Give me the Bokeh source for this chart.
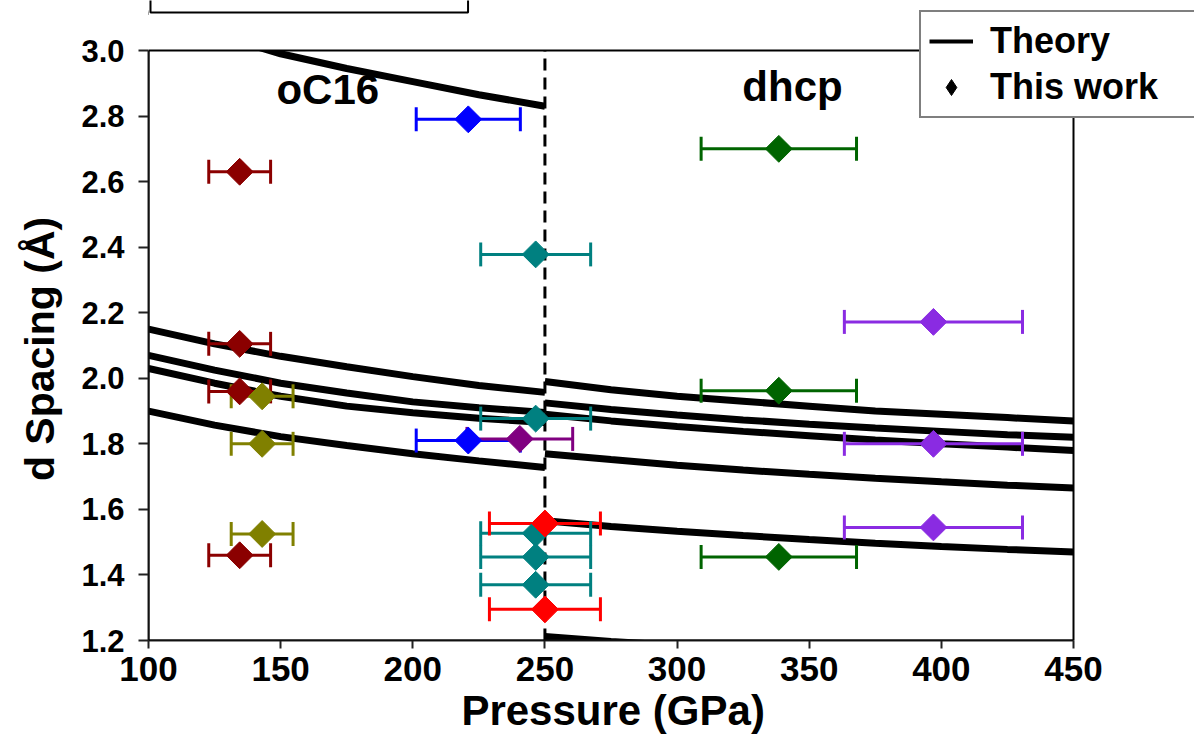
import numpy as np
from bokeh.plotting import figure
from bokeh.models import (ColumnDataSource, Label, Legend, LegendItem, BoxAnnotation,
                          Range1d, FixedTicker, PrintfTickFormatter)
from bokeh.embed import file_html
from bokeh.resources import INLINE

# ---------------- data ----------------
# Theory curves, oC16 phase (100-250 GPa)
oc16_pressure = [100, 125, 150, 175, 200, 225, 250]
oc16_d1 = [3.12, 3.05, 2.99, 2.945, 2.905, 2.865, 2.83]
oc16_d2 = [2.15, 2.105, 2.067, 2.035, 2.005, 1.978, 1.957]
oc16_d3 = [2.07, 2.025, 1.985, 1.955, 1.928, 1.91, 1.896]
oc16_d4 = [2.03, 1.985, 1.945, 1.915, 1.895, 1.878, 1.865]
oc16_d5 = [1.90, 1.857, 1.822, 1.795, 1.77, 1.748, 1.728]

# Theory curves, dhcp phase (250-450 GPa)
dhcp_pressure = [250, 275, 300, 325, 350, 375, 400, 425, 450]
dhcp_d1 = [1.99, 1.965, 1.945, 1.93, 1.915, 1.90, 1.89, 1.88, 1.87]
dhcp_d2 = [1.925, 1.905, 1.888, 1.873, 1.86, 1.848, 1.838, 1.828, 1.82]
dhcp_d3 = [1.89, 1.87, 1.853, 1.838, 1.825, 1.812, 1.80, 1.79, 1.78]
dhcp_d4 = [1.77, 1.752, 1.735, 1.72, 1.707, 1.695, 1.684, 1.674, 1.665]
dhcp_d5 = [1.565, 1.548, 1.533, 1.52, 1.508, 1.497, 1.487, 1.478, 1.47]
dhcp_d6 = [1.212, 1.197, 1.185, 1.175, 1.166, 1.158, 1.151, 1.145, 1.14]

phase_boundary = 250

# Experimental points ("This work")
exp_pressure = [134.5, 134.5, 134.5, 134.5,
                143, 143, 143,
                221, 221,
                240.5,
                246.5, 246.5, 246.5, 246.5, 246.5,
                250, 250,
                338.5, 338.5, 338.5,
                397, 397, 397]
exp_d = [2.63, 2.105, 1.96, 1.46,
         1.945, 1.80, 1.525,
         2.79, 1.81,
         1.815,
         2.378, 1.877, 1.527, 1.455, 1.37,
         1.557, 1.295,
         2.70, 1.962, 1.455,
         2.172, 1.80, 1.545]
exp_err = [11.7, 11.7, 11.7, 11.7,
           11.7, 11.7, 11.7,
           19.7, 19.7,
           20.0,
           20.8, 20.8, 20.8, 20.8, 20.8,
           21.0, 21.0,
           29.4, 29.4, 29.4,
           33.7, 33.7, 33.7]
exp_color = ["#8B0000"] * 4 + ["#808000"] * 3 + ["#0000FF"] * 2 + ["#800080"] + \
            ["#008080"] * 5 + ["#FF0000"] * 2 + ["#006400"] * 3 + ["#8A2BE2"] * 3

x_min, x_max = 100, 450
y_min, y_max = 1.2, 3.0
x_ticks = [100, 150, 200, 250, 300, 350, 400, 450]
y_ticks = [1.2, 1.4, 1.6, 1.8, 2.0, 2.2, 2.4, 2.6, 2.8, 3.0]

FONT = "Liberation Sans"
NB = "\u00a0"

# ---------------- figure ----------------
# The frame is extended to the top and right canvas edges so that the legend
# and the top-left box (which sit partly outside the axes box) are not clipped.
p = figure(width=1194, height=740,
           x_range=Range1d(x_min, x_min + 1046 * (x_max - x_min) / 925),
           y_range=Range1d(y_min, y_max + 50 * (y_max - y_min) / 590),
           output_backend="svg", toolbar_location=None,
           min_border_left=148, min_border_right=0, min_border_top=0, min_border_bottom=100)
p.xgrid.visible = False
p.ygrid.visible = False
p.outline_line_color = None
p.background_fill_color = "white"
p.border_fill_color = "white"

for ax in (p.xaxis, p.yaxis):
    ax.axis_line_color = "#222222"
    ax.axis_line_width = 2
    ax.major_tick_line_color = "#222222"
    ax.major_tick_line_width = 2
    ax.major_tick_in = 0
    ax.minor_tick_line_color = None
    ax.major_label_text_font = FONT
    ax.major_label_text_font_style = "bold"
    ax.major_label_text_color = "black"
    ax.axis_label_text_font = FONT
    ax.axis_label_text_font_style = "bold"
    ax.axis_label_text_color = "black"

p.xaxis.bounds = (x_min, x_max)
p.yaxis.bounds = (y_min, y_max)
p.xaxis.ticker = FixedTicker(ticks=x_ticks)
p.yaxis.ticker = FixedTicker(ticks=y_ticks)
p.yaxis.formatter = PrintfTickFormatter(format="%.1f")
p.xaxis.major_tick_out = 8
p.yaxis.major_tick_out = 10
p.xaxis.major_label_text_font_size = "35px"
p.yaxis.major_label_text_font_size = "31px"
p.xaxis.major_label_standoff = 8
p.yaxis.major_label_standoff = 14
p.xaxis.axis_label_standoff = 3
p.yaxis.axis_label_standoff = 15
p.xaxis.axis_label_text_font_size = "42px"
p.yaxis.axis_label_text_font_size = "41px"
# non-breaking spaces re-centre the titles on the axes box (100-450 / 1.2-3.0)
p.xaxis.axis_label = "Pressure (GPa)" + NB * 10
p.yaxis.axis_label = "d Spacing (Å)" + NB * 5

# theory curves: white underlay + black line
for d in (oc16_d1, oc16_d2, oc16_d3, oc16_d4, oc16_d5):
    src = ColumnDataSource(dict(x=oc16_pressure, y=d))
    p.line("x", "y", source=src, line_color="white", line_width=11)
    p.line("x", "y", source=src, line_color="black", line_width=7)
for d in (dhcp_d1, dhcp_d2, dhcp_d3, dhcp_d4, dhcp_d5, dhcp_d6):
    src = ColumnDataSource(dict(x=dhcp_pressure, y=d))
    p.line("x", "y", source=src, line_color="white", line_width=11)
    p.line("x", "y", source=src, line_color="black", line_width=7)

# phase boundary
p.line(x=[phase_boundary, phase_boundary], y=[y_min, y_max], line_color="black",
       line_width=3, line_dash="12 7")

# experimental points
exp_src = ColumnDataSource(dict(
    x=exp_pressure, y=exp_d,
    lo=[x - e for x, e in zip(exp_pressure, exp_err)],
    hi=[x + e for x, e in zip(exp_pressure, exp_err)],
    color=exp_color))
p.segment(x0="lo", y0="y", x1="hi", y1="y", source=exp_src, line_color="color", line_width=3)
p.scatter(x="lo", y="y", source=exp_src, marker="dash", angle=np.pi / 2, size=24,
          line_color="color", line_width=3)
p.scatter(x="hi", y="y", source=exp_src, marker="dash", angle=np.pi / 2, size=24,
          line_color="color", line_width=3)
p.scatter(x="x", y="y", source=exp_src, marker="square", angle=np.pi / 4, size=19,
          fill_color="color", line_color="color", line_width=1)

# hide everything drawn above the axes box, then draw the axes box
p.add_layout(BoxAnnotation(bottom=y_max, fill_color="white", fill_alpha=1.0,
                           line_color=None))
p.add_layout(BoxAnnotation(left=x_min, right=x_max, bottom=y_min, top=y_max,
                           fill_alpha=0.0, line_color="black", line_alpha=1.0, line_width=2))

# phase labels
p.add_layout(Label(x=148.4, y=2.88, text="oC16", text_font=FONT, text_font_style="bold",
                   text_font_size="42px", text_baseline="alphabetic", text_color="black"))
p.add_layout(Label(x=324.7, y=2.89, text="dhcp", text_font=FONT, text_font_style="bold",
                   text_font_size="42px", text_baseline="alphabetic", text_color="black"))

# legend (proxy renderers hold no visible point)
theory_proxy = p.line(x=[np.nan], y=[np.nan], line_color="black", line_width=4)
work_proxy = p.scatter(x=[np.nan], y=[np.nan], marker="diamond", size=20, color="black")
legend = Legend(items=[LegendItem(label="Theory", renderers=[theory_proxy]),
                       LegendItem(label="This work", renderers=[work_proxy])],
                location=(771, 522), orientation="vertical",
                label_text_font=FONT, label_text_font_style="bold", label_text_font_size="36px",
                label_text_color="black", glyph_width=44, glyph_height=40,
                label_standoff=17, padding=8, spacing=4, margin=0, label_width=230,
                border_line_color="black", border_line_width=2,
                background_fill_color="white", background_fill_alpha=1.0)
p.add_layout(legend, "center")

# partially visible box at the top-left
p.add_layout(Label(x=2, y=628, x_units="screen", y_units="screen", text=" ",
                   anchor="bottom_left", padding=(156, 30), text_font_size="20px",
                   border_line_color="black", border_line_width=2,
                   background_fill_color="white"))

open("out.html", "w").write(file_html(p, INLINE))
